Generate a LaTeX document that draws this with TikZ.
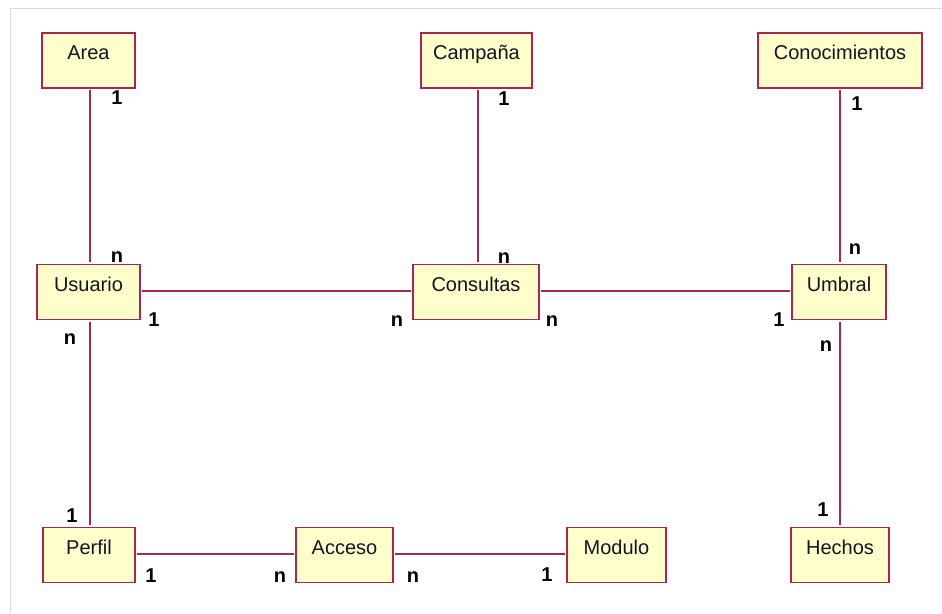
\documentclass[tikz,border=0pt]{standalone}
\usepackage{fontspec}
\setmainfont{Liberation Sans}
\definecolor{linec}{RGB}{168,38,84}
\definecolor{boxfill}{RGB}{255,255,204}
\definecolor{framec}{RGB}{218,218,218}
\definecolor{textc}{RGB}{20,20,35}
\begin{document}
\begin{tikzpicture}[x=1pt,y=-1pt,
  entity/.style={draw=linec, fill=boxfill, line width=1.4pt, rectangle,
    minimum height=55pt, inner xsep=0pt, inner ysep=0pt,
    text height=26.5pt, text depth=28.5pt, text=textc,
    font=\fontsize{20}{22}\selectfont},
  rel/.style={draw=linec, line width=1.4pt, shorten <=1.5pt, shorten >=1.5pt},
  mult/.style={inner sep=0pt, text=black, font=\fontsize{20}{22}\selectfont\bfseries}]
  \useasboundingbox (0,0) rectangle (942,613);
  % thin frame along the top and left edges
  \draw[framec, line width=1pt] (942,8) -- (10,8) -- (10,613);

  % entities
  \node[entity, minimum width=93pt]  (area)   at (88.5,60.5) {Area};
  \node[entity, minimum width=111pt] (camp)   at (476.5,60.5) {Campaña};
  \node[entity, minimum width=164pt] (conoc)  at (840,60.5)  {Conocimientos};
  \node[entity, minimum width=103pt] (usu)    at (88.5,292)  {Usuario};
  \node[entity, minimum width=126pt] (cons)   at (476,292)   {Consultas};
  \node[entity, minimum width=94pt]  (umb)    at (839,292)   {Umbral};
  \node[entity, minimum width=92pt]  (perf)   at (89,555)    {Perfil};
  \node[entity, minimum width=97pt]  (acc)    at (344.5,555) {Acceso};
  \node[entity, minimum width=99pt]  (mod)    at (616.5,555) {Modulo};
  \node[entity, minimum width=98pt]  (hech)   at (840,555)   {Hechos};

  % relationships
  \draw[rel] ([xshift=1.5pt]area.south) -- ([xshift=1.5pt]usu.north);
  \draw[rel] ([xshift=1.5pt]camp.south) -- ([xshift=2pt]cons.north);
  \draw[rel] (conoc.south) -- ([xshift=1pt]umb.north);
  \draw[rel] ([xshift=1.5pt]usu.south) -- ([xshift=1pt]perf.north);
  \draw[rel] ([xshift=1pt]umb.south) -- (hech.north);
  \draw[rel] ([yshift=1pt]usu.east) -- ([yshift=1pt]cons.west);
  \draw[rel] ([yshift=1pt]cons.east) -- ([yshift=1pt]umb.west);
  \draw[rel] ([yshift=1pt]perf.east) -- ([yshift=1pt]acc.west);
  \draw[rel] ([yshift=1pt]acc.east) -- ([yshift=1pt]mod.west);

  % multiplicities
  \node[mult] (m1)  at (117,98)  {1};
  \node[mult] (m2)  at (117,257) {n};
  \node[mult] (m3)  at (504,99)  {1};
  \node[mult] (m4)  at (504,258) {n};
  \node[mult] (m5)  at (857,104) {1};
  \node[mult] (m6)  at (855,249) {n};
  \node[mult] (m7)  at (154,320) {1};
  \node[mult] (m8)  at (397,321) {n};
  \node[mult] (m9)  at (552,321) {n};
  \node[mult] (m10) at (779,320) {1};
  \node[mult] (m11) at (70,339)  {n};
  \node[mult] (m12) at (72,516)  {1};
  \node[mult] (m13) at (826,346) {n};
  \node[mult] (m14) at (823,510) {1};
  \node[mult] (m15) at (151,576) {1};
  \node[mult] (m16) at (280,577) {n};
  \node[mult] (m17) at (413,577) {n};
  \node[mult] (m18) at (547,575) {1};
\end{tikzpicture}
\end{document}
